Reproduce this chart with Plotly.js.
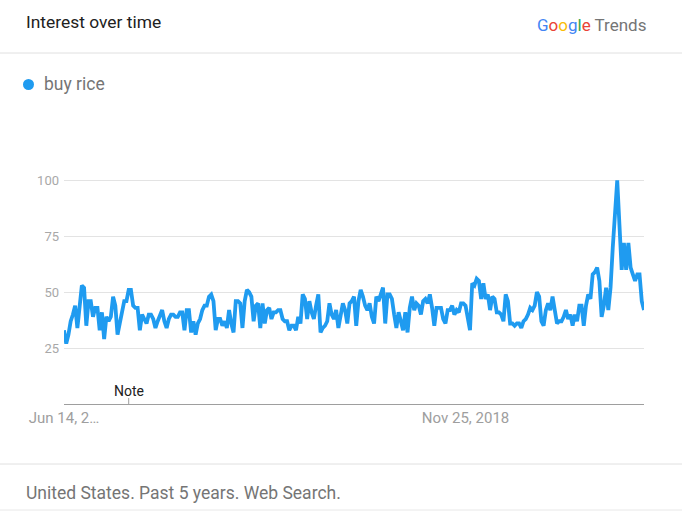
<!DOCTYPE html>
<html>
<head>
<meta charset="utf-8">
<script src="https://cdn.plot.ly/plotly-3.0.1.min.js"></script>
<style>html,body{margin:0;padding:0;background:#fff;}#chart{width:682px;height:512px;}</style>
</head>
<body>
<div id="chart"></div>
<script>
// Weekly interest for "buy rice", starting the week of Jun 14, 2015
const seriesName = "buy rice";
const startWeek = "2015-06-14";
const interest = [
 33,27,31,37,40,44,34,42,53,52,35,46,46,39,43,43,33,41,29,39,
 37,39,48,44,31,36,41,46,46,51,51,44,43,43,33,40,38,36,40,40,
 38,34,37,40,42,37,34,38,40,40,39,39,41,41,33,42,42,32,37,31,
 36,38,42,44,44,48,49,46,33,38,38,35,37,34,42,36,32,46,46,45,
 34,46,51,50,48,37,44,45,34,45,36,42,43,38,41,41,42,42,38,37,
 37,33,35,35,33,39,36,49,47,38,46,41,38,44,49,32,34,35,37,45,
 40,38,42,34,40,45,42,36,45,46,48,35,46,51,48,44,42,45,39,36,
 48,46,49,52,36,49,49,47,40,34,41,37,33,41,32,43,48,42,45,44,
 40,46,47,45,49,43,35,43,43,43,38,36,42,42,44,40,42,41,45,45,
 44,39,33,54,53,56,55,47,54,47,49,42,48,47,41,41,40,37,49,46,
 36,36,35,36,36,34,37,38,40,43,42,44,50,48,37,35,42,45,42,48,
 43,36,37,37,39,42,38,40,35,40,37,44,44,35,44,49,47,58,59,61,
 55,39,44,52,42,52,70,86,100,80,60,72,60,72,61,58,55,58,58,46,
 42
];
const yTickVals = [25, 50, 75, 100];
const xTickVals = ["2015-06-14", "2018-11-25"];
const xTickText = ["Jun 14, 2…", "Nov 25, 2018"];
const noteDate = "2016-01-03";

const dates = [];
const t0 = Date.UTC(2015, 5, 14);
for (let i = 0; i < interest.length; i++) {
  dates.push(new Date(t0 + i * 7 * 86400000).toISOString().slice(0, 10));
}

const blue = "#1f9bf0";
const L = 64, R = 644, T = 158, B = 404;
const px = x => (x - L) / (R - L);
const py = y => (B - y) / (B - T);

const trace = {
  x: dates, y: interest, type: "scatter", mode: "lines",
  line: {color: blue, width: 3.8, shape: "linear"},
  name: seriesName, hoverinfo: "x+y"
};

const layout = {
  width: 682, height: 512,
  margin: {l: L, r: 682 - R, t: T, b: 512 - B, pad: 0},
  paper_bgcolor: "#ffffff", plot_bgcolor: "#ffffff",
  showlegend: false,
  font: {family: "Roboto, Arial, sans-serif"},
  xaxis: {
    type: "date", range: [dates[0], dates[dates.length - 1]],
    tickvals: xTickVals, ticktext: xTickText,
    showgrid: false, zeroline: false,
    showline: true, linecolor: "#9e9e9e", linewidth: 1,
    ticks: "", tickfont: {size: 15, color: "#9e9e9e"}
  },
  yaxis: {
    range: [0, 110], tickvals: yTickVals,
    showgrid: true, gridcolor: "#e3e3e3", gridwidth: 1,
    zeroline: false, showline: false, ticks: "",
    ticklabelstandoff: 4,
    tickfont: {size: 13, color: "#a8a8a8"}
  },
  shapes: [
    {type: "line", xref: "paper", yref: "paper", x0: px(0), x1: px(682), y0: py(53), y1: py(53), line: {color: "#e0e0e0", width: 1}},
    {type: "line", xref: "paper", yref: "paper", x0: px(0), x1: px(682), y0: py(464), y1: py(464), line: {color: "#e0e0e0", width: 1}},
    {type: "line", xref: "paper", yref: "paper", x0: px(0), x1: px(682), y0: py(510), y1: py(510), line: {color: "#e8e8e8", width: 1}},
    {type: "line", xref: "x", yref: "paper", x0: noteDate, x1: noteDate, y0: py(398), y1: py(404), line: {color: "#9e9e9e", width: 1}},
    {type: "circle", xref: "paper", yref: "paper", x0: px(23), x1: px(34), y0: py(79), y1: py(90), fillcolor: blue, line: {width: 0}}
  ],
  annotations: [
    {xref: "paper", yref: "paper", x: px(24), y: py(22), xanchor: "left", yanchor: "middle", showarrow: false,
     text: "Interest over time", font: {size: 17.4, color: "#212121"}},
    {xref: "paper", yref: "paper", x: px(648), y: py(25), xanchor: "right", yanchor: "middle", showarrow: false,
     text: '<span style="color:#4285F4">G</span><span style="color:#EA4335">o</span><span style="color:#FBBC05">o</span><span style="color:#4285F4">g</span><span style="color:#34A853">l</span><span style="color:#EA4335">e</span><span style="color:#757575"> Trends</span>',
     font: {size: 17, color: "#757575"}},
    {xref: "paper", yref: "paper", x: px(42), y: py(84), xanchor: "left", yanchor: "middle", showarrow: false,
     text: seriesName, font: {size: 17.5, color: "#757575"}},
    {xref: "x", yref: "paper", x: noteDate, y: py(391), xanchor: "center", yanchor: "middle", showarrow: false,
     text: "Note", font: {size: 14, color: "#212121"}},
    {xref: "paper", yref: "paper", x: px(24), y: py(493), xanchor: "left", yanchor: "middle", showarrow: false,
     text: "United States. Past 5 years. Web Search.", font: {size: 17.5, color: "#757575"}}
  ]
};

Plotly.newPlot("chart", [trace], layout, {displayModeBar: false, staticPlot: true});
</script>
</body>
</html>
